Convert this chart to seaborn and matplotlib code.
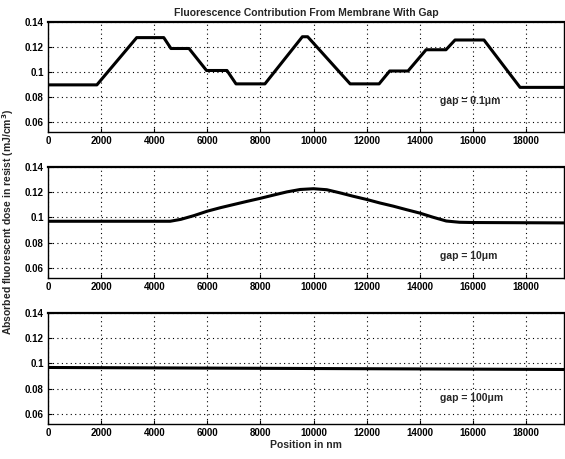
import numpy as np
import pandas as pd
import seaborn as sns
import matplotlib.pyplot as plt

# values
pos_01 = [0, 1840, 3340, 4360, 4630, 5310, 5970, 6740, 7080, 8170, 9580, 9780,
          11380, 12470, 12870, 13560, 14240, 14990, 15330, 16420, 17780, 19430]
dose_01 = [0.0897, 0.0897, 0.1275, 0.1275, 0.1188, 0.1188, 0.1012, 0.1012, 0.0905, 0.0905,
           0.1282, 0.1282, 0.0905, 0.0905, 0.1008, 0.1008, 0.1178, 0.1178, 0.1256, 0.1256,
           0.0877, 0.0877]

pos_10 = [0, 4600, 5000, 5500, 6000, 6500, 7000, 7500, 8000, 8500, 9000, 9500, 10000,
          10500, 11000, 11500, 12000, 12500, 13000, 13500, 14000, 14500, 15000, 15500,
          16000, 19430]
dose_10 = [0.0970, 0.0970, 0.0985, 0.1015, 0.1050, 0.1078, 0.1103, 0.1128, 0.1152, 0.1178,
           0.1203, 0.1222, 0.1228, 0.1220, 0.1195, 0.1168, 0.1143, 0.1115, 0.1090, 0.1062,
           0.1035, 0.1002, 0.0972, 0.0962, 0.0960, 0.0957]

pos_100 = [0, 19430]
dose_100 = [0.0968, 0.0952]

gap_labels = ['gap = 0.1\u03bcm', 'gap = 10\u03bcm', 'gap = 100\u03bcm']
label_y = [0.077, 0.0696, 0.0728]
x_ticks = list(range(0, 18001, 2000))
y_ticks = [0.06, 0.08, 0.1, 0.12, 0.14]
y_tick_labels = ['0.06', '0.08', '0.1', '0.12', '0.14']

sns.set_style('ticks')
plt.rcParams['font.family'] = ['Liberation Sans', 'DejaVu Sans']
plt.rcParams['font.weight'] = 'bold'

fig = plt.figure(figsize=(5.65, 4.59), dpi=100)
boxes = [[0.085, 0.7124, 0.913, 0.2397],
         [0.085, 0.3943, 0.913, 0.2418],
         [0.085, 0.0763, 0.913, 0.2418]]

series = [(pos_01, dose_01), (pos_10, dose_10), (pos_100, dose_100)]
axes = []
for i, (xs, ys) in enumerate(series):
    ax = fig.add_axes(boxes[i])
    df = pd.DataFrame({'pos': xs, 'dose': ys})
    sns.lineplot(data=df, x='pos', y='dose', ax=ax, color='black', linewidth=2.2)
    ax.set_xlim(0, 19430)
    ax.set_ylim(0.052, 0.14)
    ax.set_xticks(x_ticks)
    ax.set_xticklabels([str(t) for t in x_ticks])
    ax.set_yticks(y_ticks)
    ax.set_yticklabels(y_tick_labels)
    ax.tick_params(direction='in', length=3, width=0.8, labelsize=7, colors='black', pad=3)
    ax.grid(True, linestyle=(0, (1, 3)), color='black', linewidth=0.8)
    for s in ax.spines.values():
        s.set_color('black')
        s.set_linewidth(1.0)
    ax.spines['top'].set_linewidth(1.6)
    ax.set_xlabel('')
    ax.set_ylabel('')
    ax.text(14760, label_y[i], gap_labels[i], fontsize=7.5, va='center', ha='left')
    axes.append(ax)

axes[0].set_title('Fluorescence Contribution From Membrane With Gap', fontsize=7.5,
                  fontweight='bold', pad=4)
axes[2].set_xlabel('Position in nm', fontsize=7.5, fontweight='bold', labelpad=1)
fig.text(0.015, 0.516, 'Absorbed fluorescent dose in resist (mJ/cm$^3$)', rotation=90,
         fontsize=7.5, fontweight='bold', ha='center', va='center')

fig.savefig('out.png', dpi=100)
